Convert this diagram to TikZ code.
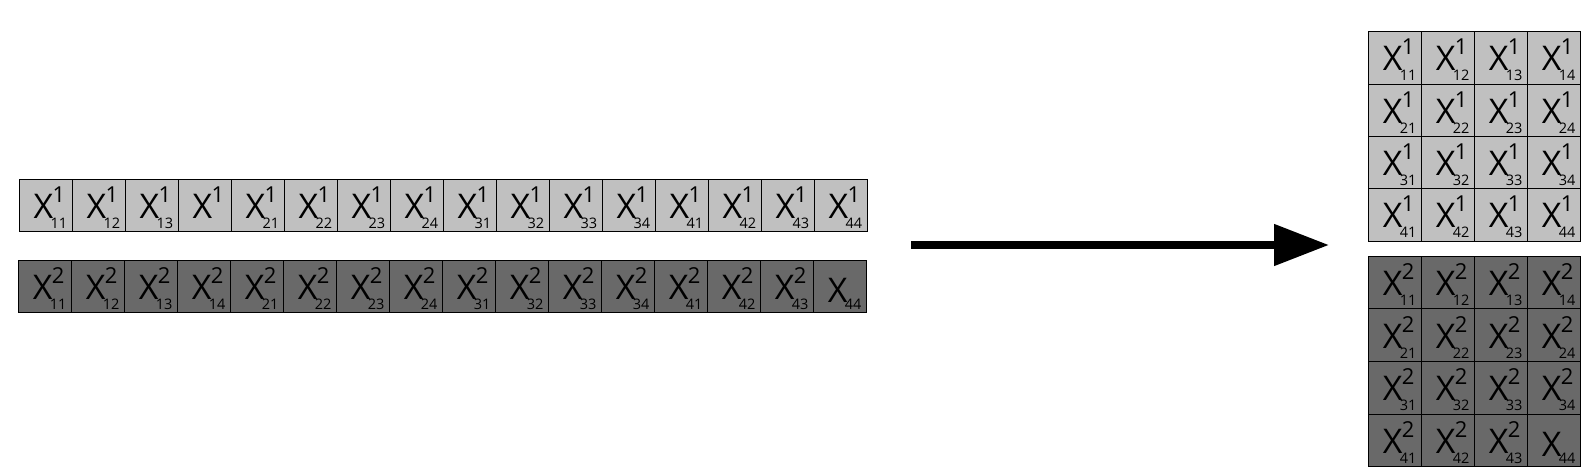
\documentclass[tikz,border=0pt]{standalone}
\usepackage{fontspec}
\setmainfont{Open Sans}
\usetikzlibrary{arrows.meta}
\definecolor{lightcell}{HTML}{C0C0C0}
\definecolor{darkcell}{HTML}{696969}
\newcommand\XX{\fontsize{34}{34}\selectfont X}
\newcommand\XL[2]{\makebox[24pt][l]{\raisebox{0pt}[26pt][0pt]{{\XX}\rlap{\kern-0.5pt\raisebox{16pt}{\fontsize{22}{22}\selectfont #1}}\kern-2.5pt\raisebox{-10pt}{\fontsize{14.5}{14.5}\selectfont #2}}}}
\newcommand\XS[1]{\makebox[24pt][l]{\raisebox{0pt}[32pt][0pt]{{\XX}\kern-2.5pt\raisebox{-7pt}{\fontsize{14.5}{14.5}\selectfont #1}}}}
\tikzset{
  cell/.style={draw=black, line width=0.8pt, minimum width=53pt, minimum height=52.6pt, inner sep=0pt, outer sep=0pt, anchor=center},
  lightc/.style={cell, fill=lightcell},
  darkc/.style={cell, fill=darkcell},
  bigarrow/.style={line width=8pt, -{Triangle[length=55pt,width=40pt]}}
}
\begin{document}
\begin{tikzpicture}[x=1pt,y=-1pt]
\useasboundingbox (0,0) rectangle (1596,476);
% row 1
\foreach \s [count=\i from 0] in {11,12,13,14,21,22,23,24,31,32,33,34,41,42,43,44}{
  \node[lightc] (r1-\s) at ({45.5+53*\i},205.5) {\ifnum\s=14 \XL{1}{}\else\XL{1}{\s}\fi};
}
% row 2
\foreach \s [count=\i from 0] in {11,12,13,14,21,22,23,24,31,32,33,34,41,42,43,44}{
  \node[darkc] (r2-\s) at ({44.8+53*\i},286.4) {\ifnum\s=44 \XS{44}\else\XL{2}{\s}\fi};
}
% grid 1
\foreach \r in {1,...,4}{
  \foreach \c in {1,...,4}{
    \node[lightc, minimum height=52.3pt] (g1-\r\c) at ({1394.8+53*(\c-1)},{57.85+52.3*(\r-1)}) {\XL{1}{\r\c}};
  }
}
% grid 2
\foreach \r in {1,...,4}{
  \foreach \c in {1,...,4}{
    \node[darkc, minimum height=52.7pt] (g2-\r\c) at ({1394.8+53*(\c-1)},{282.35+52.7*(\r-1)}) {\ifnum\r\c=44 \XS{44}\else\XL{2}{\r\c}\fi};
  }
}
% arrow
\coordinate (arrowstart) at (911,245);
\coordinate (arrowend) at (1329,245);
\draw[bigarrow] (arrowstart) -- (arrowend);
\end{tikzpicture}
\end{document}
